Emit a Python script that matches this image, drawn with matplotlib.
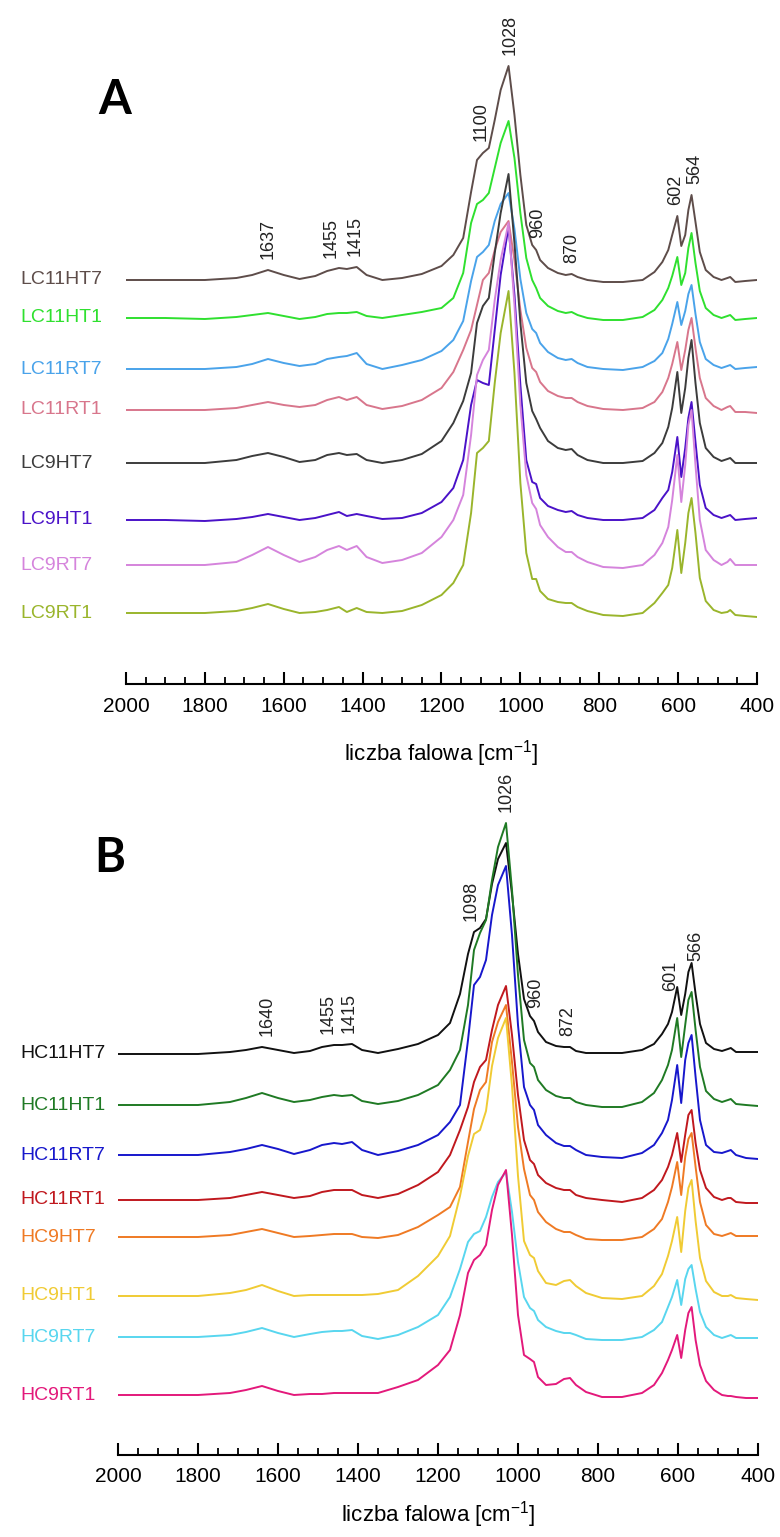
import numpy as np
import matplotlib
matplotlib.use("Agg")
import matplotlib.pyplot as plt
from matplotlib.ticker import MultipleLocator

plt.rcParams["font.family"] = ["Liberation Sans", "DejaVu Sans"]
plt.rcParams["mathtext.fontset"] = "custom"
plt.rcParams["mathtext.rm"] = "Liberation Sans"

# wspólna siatka liczb falowych [cm-1]
WN = [2000, 1900, 1800, 1720, 1680,
      1640, 1600, 1560, 1520, 1490,
      1460, 1440, 1415, 1390, 1350,
      1300, 1250, 1200, 1170, 1145,
      1125, 1110, 1095, 1080, 1065,
      1050, 1030, 1015, 1000, 985,
      970, 960, 950, 930, 905,
      885, 870, 855, 830, 790,
      740, 690, 660, 640, 625,
      615, 602, 592, 582, 574,
      566, 556, 545, 530, 510,
      490, 475, 468, 455, 430,
      400]

# --- panel A (absorbancja, j.u.) ---
LC11HT7 = [0, 0, 0, 2, 5, 10, 5, 1, 4, 9, 12, 11, 13, 5, 0,
           2, 6, 14, 25, 42, 88, 120, 127, 132, 160, 190, 214, 165, 105, 55,
           35, 30, 20, 12, 7, 5, 6, 3, 0, -2, -2, 0, 8, 18, 30,
           45, 64, 34, 45, 70, 85, 58, 28, 10, 3, 0, 2, 3, -2, -1, 0]
LC11HT1 = [0, 0, -1, 1, 3, 5, 2, -1, 1, 4, 5, 5, 6, 2, 0,
           3, 6, 10, 20, 45, 95, 114, 118, 125, 150, 175, 197, 160, 105, 60,
           38, 30, 20, 12, 7, 5, 6, 3, 0, -2, -2, 1, 8, 18, 30,
           42, 61, 33, 45, 70, 85, 55, 27, 10, 3, 0, 2, 3, -2, -1, 0]
LC11RT7 = [0, 0, 0, 2, 5, 10, 6, 3, 5, 10, 12, 13, 16, 5, 0,
           4, 9, 18, 29, 48, 88, 112, 117, 124, 148, 165, 176, 140, 90, 56,
           40, 36, 26, 17, 11, 9, 10, 6, 2, 0, -1, 2, 8, 16, 30,
           45, 67, 44, 58, 75, 84, 55, 27, 10, 4, 1, 3, 4, 0, 1, 2]
LC11RT1 = [0, 0, 0, 2, 5, 8, 5, 3, 5, 10, 13, 10, 13, 5, 1,
           4, 10, 22, 38, 60, 80, 105, 130, 137, 160, 178, 189, 150, 100, 62,
           42, 38, 28, 19, 14, 12, 12, 8, 4, 1, 0, 2, 8, 18, 32,
           46, 68, 40, 60, 80, 92, 62, 32, 12, 4, 0, 3, 4, -2, -2, -3]
LC9HT7 = [0, 0, 0, 3, 7, 10, 6, 1, 3, 8, 10, 8, 9, 3, 0,
          3, 9, 22, 40, 62, 90, 140, 157, 165, 210, 250, 289, 220, 140, 80,
          52, 44, 35, 22, 15, 13, 14, 8, 3, 0, 0, 2, 10, 20, 36,
          55, 91, 50, 75, 105, 123, 80, 40, 15, 6, 2, 4, 5, 0, 0, 0]
LC9HT1 = [0, 0, -1, 1, 3, 6, 3, 0, 2, 5, 8, 4, 6, 4, 1,
          2, 7, 18, 32, 60, 115, 140, 137, 135, 190, 245, 293, 225, 135, 60,
          38, 36, 22, 14, 10, 8, 9, 5, 2, 0, 0, 2, 10, 22, 30,
          48, 83, 43, 72, 102, 118, 78, 35, 12, 5, 2, 4, 5, 0, 1, 2]
LC9RT7 = [0, 0, 0, 3, 10, 18, 10, 3, 8, 15, 19, 15, 19, 8, 2,
          5, 12, 28, 45, 70, 130, 190, 205, 215, 265, 305, 342, 260, 160, 90,
          62, 56, 40, 28, 18, 13, 13, 8, 3, -2, -3, 0, 10, 22, 38,
          65, 110, 63, 100, 140, 155, 100, 45, 15, 5, 0, 3, 6, 0, 0, 0]
LC9RT1 = [0, 0, 0, 2, 5, 9, 4, 0, 1, 3, 6, 1, 5, 1, 0,
          2, 8, 18, 30, 48, 100, 160, 165, 172, 230, 280, 322, 240, 130, 60,
          34, 34, 22, 14, 11, 10, 10, 6, 2, -2, -3, 0, 10, 20, 28,
          45, 83, 40, 70, 100, 115, 80, 35, 12, 3, 0, 1, 3, -2, -3, -4]

# --- panel B ---
HC11HT7 = [0, 0, 0, 2, 4, 7, 4, 1, 3, 7, 9, 9, 10, 4, 1,
           5, 10, 19, 31, 60, 100, 122, 126, 135, 170, 195, 211, 160, 100, 55,
           38, 33, 22, 12, 8, 7, 7, 3, 1, 1, 1, 4, 10, 20, 30,
           42, 67, 39, 60, 82, 91, 60, 30, 11, 5, 3, 5, 6, 2, 2, 2]
HC11HT1 = [0, 0, 0, 3, 7, 12, 7, 3, 5, 8, 10, 9, 10, 4, 1,
           4, 10, 20, 35, 55, 100, 155, 172, 185, 225, 258, 282, 215, 130, 65,
           42, 38, 25, 15, 9, 7, 7, 3, 0, -2, -2, 3, 12, 25, 40,
           55, 87, 48, 80, 105, 113, 75, 38, 14, 6, 3, 5, 6, 1, 0, -1]
HC11RT7 = [0, 0, 0, 3, 6, 10, 6, 1, 5, 10, 12, 11, 13, 5, 0,
           4, 10, 20, 33, 50, 115, 170, 178, 195, 240, 270, 289, 220, 130, 68,
           50, 45, 30, 20, 12, 9, 9, 5, 0, -2, -3, 2, 10, 22, 35,
           55, 90, 52, 95, 112, 120, 78, 35, 10, 3, 2, 4, 5, 0, -3, -4]
HC11RT1 = [0, 0, 0, 2, 5, 8, 5, 2, 4, 8, 10, 10, 10, 5, 2,
           6, 15, 28, 45, 70, 93, 118, 133, 140, 170, 195, 214, 165, 105, 60,
           40, 36, 25, 17, 12, 10, 10, 5, 2, 0, -2, 2, 10, 20, 33,
           45, 67, 38, 65, 85, 90, 57, 30, 12, 3, 0, 2, 2, -2, -3, -3]
HC9HT7 = [0, 0, 0, 2, 5, 8, 4, 0, 1, 2, 3, 3, 3, 0, -1,
          2, 10, 22, 30, 50, 95, 128, 147, 155, 195, 215, 232, 175, 110, 68,
          42, 37, 25, 15, 8, 5, 5, 2, -2, -3, -3, 0, 8, 18, 35,
          50, 75, 42, 80, 98, 104, 70, 35, 12, 3, 1, 3, 4, 1, 1, 1]
HC9HT1 = [0, 0, 0, 3, 6, 11, 5, 0, 1, 1, 1, 1, 1, 1, 2,
          6, 20, 40, 60, 100, 140, 162, 166, 185, 230, 258, 278, 210, 120, 55,
          41, 38, 25, 13, 11, 15, 16, 10, 3, -2, -3, 0, 10, 22, 40,
          55, 79, 44, 85, 108, 116, 75, 38, 15, 4, 0, 0, 1, -2, -3, -4]
HC9RT7 = [0, 0, 0, 2, 5, 9, 4, 0, 3, 5, 6, 6, 7, 1, -2,
          2, 10, 22, 40, 68, 95, 103, 106, 120, 140, 155, 165, 125, 75, 40,
          29, 26, 17, 10, 6, 4, 4, 2, -2, -3, -3, 0, 7, 15, 30,
          40, 57, 32, 58, 68, 72, 48, 25, 10, 2, -1, 1, 2, -1, -1, -1]
HC9RT1 = [0, 0, 0, 2, 5, 9, 4, 0, 1, 1, 2, 2, 2, 2, 2,
          8, 15, 30, 45, 80, 122, 135, 140, 150, 185, 210, 225, 160, 80, 40,
          36, 33, 18, 10, 11, 16, 17, 10, 3, -2, -2, 2, 10, 22, 35,
          45, 60, 37, 65, 82, 88, 55, 30, 14, 5, 0, -1, -1, -2, -3, -3]

NAMES_A = ["LC11HT7", "LC11HT1", "LC11RT7", "LC11RT1",
           "LC9HT7", "LC9HT1", "LC9RT7", "LC9RT1"]
SPECTRA_A = [LC11HT7, LC11HT1, LC11RT7, LC11RT1, LC9HT7, LC9HT1, LC9RT7, LC9RT1]
NAMES_B = ["HC11HT7", "HC11HT1", "HC11RT7", "HC11RT1",
           "HC9HT7", "HC9HT1", "HC9RT7", "HC9RT1"]
SPECTRA_B = [HC11HT7, HC11HT1, HC11RT7, HC11RT1, HC9HT7, HC9HT1, HC9RT7, HC9RT1]

# przesunięcia widm (offset w pionie)
SHIFT_A = [333, 295, 244, 203, 150, 93, 48, 0]
SHIFT_B = [341, 290, 240, 195, 158, 99, 58, 0]

COLORS_A = ["#5e4d4a", "#2fe02f", "#4aa3ea", "#d8768c",
            "#3c3c3c", "#4a12c8", "#d584dc", "#9ab52c"]
COLORS_B = ["#111111", "#1f7a24", "#1717cc", "#c0181e",
            "#ef7a24", "#f0cb34", "#58d6ef", "#e3197b"]

PEAKS_A = ["1637", "1455", "1415", "1100", "1028", "960", "870", "602", "564"]
PEAK_X_A = [1640, 1480, 1418, 1100, 1025, 955, 870, 607, 558]
PEAKS_B = ["1640", "1455", "1415", "1098", "1026", "960", "872", "601", "566"]
PEAK_X_B = [1628, 1475, 1422, 1118, 1030, 957, 875, 618, 555]

W, H = 780, 1537
fig = plt.figure(figsize=(W / 100, H / 100), dpi=100)


def panel(rect, names, spectra, shifts, colors, peaks, peak_x,
          ylim, letter, letter_xy, labelpad):
    ax = fig.add_axes(rect)
    wn = np.array(WN, dtype=float)
    tops = []
    for name, y, s, c in zip(names, spectra, shifts, colors):
        yy = np.array(y, dtype=float) + s
        ax.plot(wn, yy, color=c, lw=1.4, solid_joinstyle="round")
        tops.append(yy)
        ax.annotate(name, xy=(20 / W, s), xycoords=("figure fraction", "data"),
                    ha="left", va="center", fontsize=14, color=c)
    # etykiety pasm nad najwyższym widmem
    for lab, x in zip(peaks, peak_x):
        win = np.linspace(x - 8, x + 8, 17)
        ytop = max(np.interp(win, wn[::-1], t[::-1]).max() for t in tops)
        ax.text(x, ytop + 11, lab, rotation=90, ha="center", va="bottom",
                fontsize=13, color="#222222")
    ax.set_xlim(2000, 400)
    ax.set_ylim(*ylim)
    for sp in ("left", "right", "top"):
        ax.spines[sp].set_visible(False)
    ax.spines["bottom"].set_linewidth(1.5)
    ax.set_yticks([])
    ax.xaxis.set_major_locator(MultipleLocator(200))
    ax.xaxis.set_minor_locator(MultipleLocator(50))
    ax.tick_params(axis="x", which="major", direction="in", length=9,
                   width=1.5, labelsize=15, pad=9)
    ax.tick_params(axis="x", which="minor", direction="in", length=5,
                   width=1.3)
    ax.set_xlabel(r"liczba falowa [cm$^{\mathregular{-1}}$]", fontsize=16,
                  labelpad=labelpad)
    fig.text(letter_xy[0] / W, 1 - letter_xy[1] / H, letter, fontsize=34,
             fontweight="bold", ha="center", va="center",
             family=["Lato", "DejaVu Sans"])
    return ax


# panel A: oś przy y=684 px, widmo dolne przy 613 px
panel([126 / W, 1 - 684 / H, 631 / W, 684 / H], NAMES_A, SPECTRA_A, SHIFT_A,
      COLORS_A, PEAKS_A, PEAK_X_A, (613 - 684, 613), "A", (115, 100), 16)
# panel B: oś przy y=1455 px, widmo dolne przy 1395 px
panel([118 / W, 1 - 1455 / H, 640 / W, (1455 - 775) / H], NAMES_B, SPECTRA_B,
      SHIFT_B, COLORS_B, PEAKS_B, PEAK_X_B, (1395 - 1455, 1395 - 775), "B",
      (110, 858), 9)

fig.savefig("out.png", dpi=100, facecolor="white")
